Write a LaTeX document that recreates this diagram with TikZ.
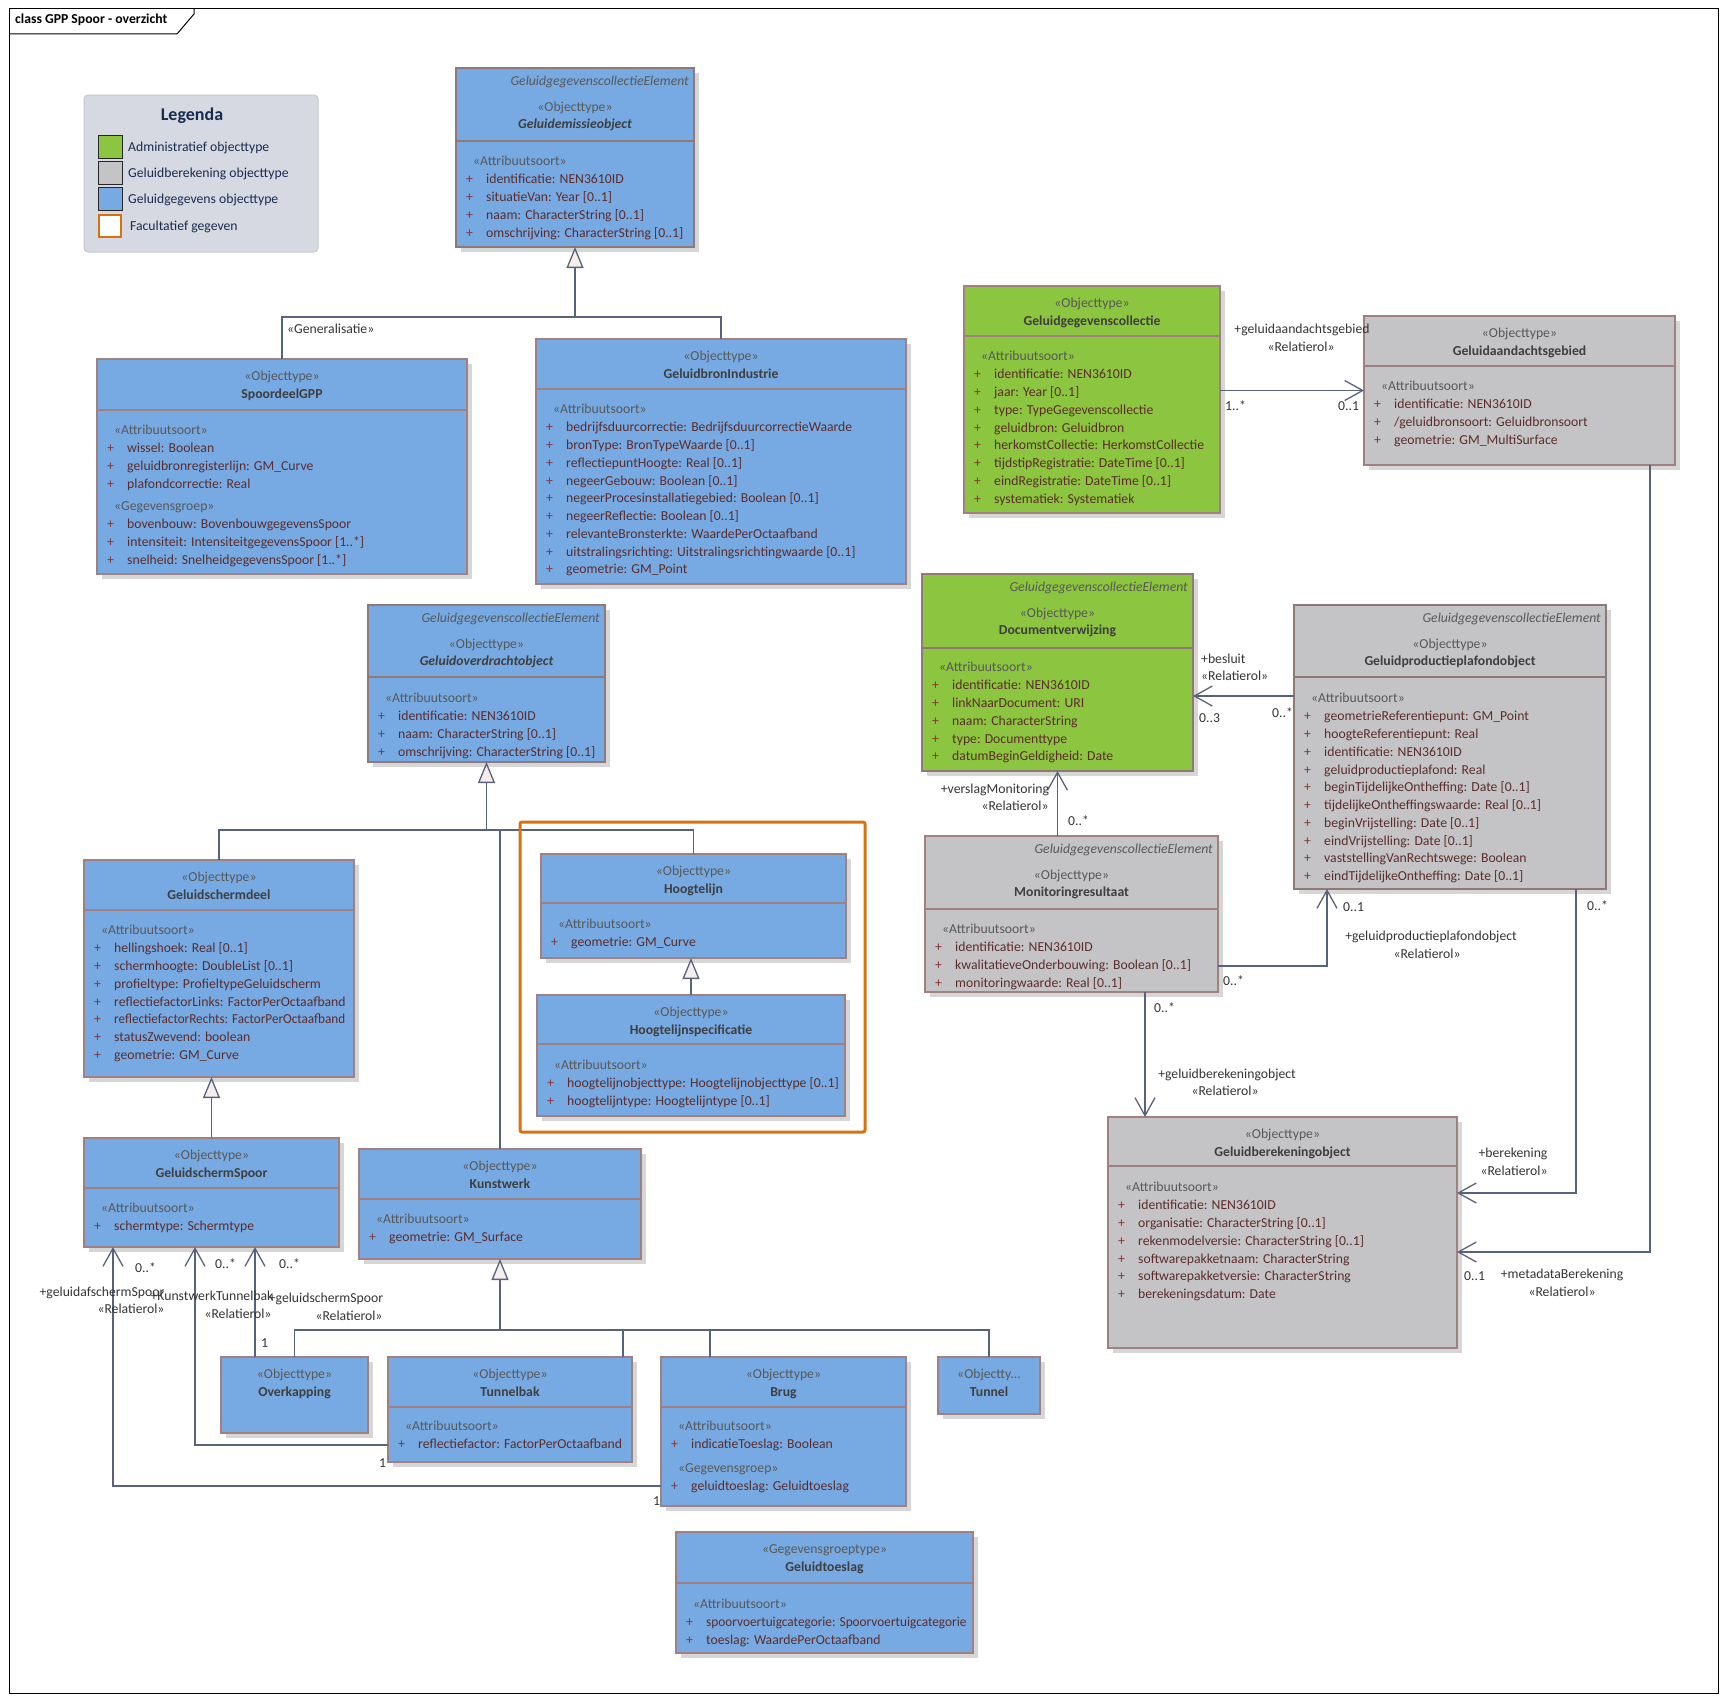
\documentclass[tikz,border=0pt]{standalone}
\usepackage{fontspec}
\setmainfont{Carlito}
\usetikzlibrary{arrows.meta}

\definecolor{blueF}{RGB}{119,170,226}
\definecolor{greenF}{RGB}{140,197,63}
\definecolor{greyF}{RGB}{196,196,198}
\definecolor{edgeC}{RGB}{160,128,128}
\definecolor{heavyC}{RGB}{142,120,120}
\definecolor{shadowC}{RGB}{214,214,214}
\definecolor{wireC}{RGB}{88,98,124}
\definecolor{attrC}{RGB}{92,44,44}
\definecolor{plusC}{RGB}{140,48,48}
\definecolor{stereoC}{RGB}{88,88,88}
\definecolor{nameC}{RGB}{62,62,62}
\definecolor{labelC}{RGB}{52,52,52}
\definecolor{optC}{RGB}{216,114,12}
\definecolor{legendF}{RGB}{214,217,225}
\definecolor{legendD}{RGB}{196,199,207}
\definecolor{legendT}{RGB}{24,44,80}
\definecolor{triF}{RGB}{246,238,234}

\newcommand\umlfont{\fontsize{13.7}{16}\selectfont}

\tikzset{% styles for the classes and the connectors
   box/.style={draw=edgeC, line width=1.2pt, inner sep=0pt, outer sep=0pt},
   bluebox/.style={box, fill=blueF},
   greenbox/.style={box, fill=greenF},
   greybox/.style={box, fill=greyF},
   heavy/.style={draw=heavyC, line width=2.6pt},
   stereo/.style={text=stereoC, font=\umlfont, inner sep=0pt, anchor=base},
   cname/.style={text=nameC, font=\umlfont\bfseries, inner sep=0pt, anchor=base},
   aname/.style={cname, font=\umlfont\bfseries\itshape},
   tagline/.style={text=stereoC, font=\umlfont\itshape, inner sep=0pt, anchor=base east},
   attr/.style={text=attrC, font=\umlfont, inner sep=0pt, anchor=base west},
   plus/.style={attr, text=plusC},
   lbl/.style={text=labelC, font=\umlfont, inner sep=0pt, anchor=base},
   lblw/.style={lbl, anchor=base west},
   wire/.style={draw=wireC, line width=1.3pt},
   gen/.style={wire, -{Triangle[length=21pt,width=17pt,fill=triF]}},
   assoc/.style={wire, -{Straight Barb[length=18pt,width=20pt]}}
}

% a class: shadow, frame and the line under its header
\newcommand\classbox[7]{%
  \fill[shadowC] ({#3+5},{#4+5}) rectangle ({#5+5},{#6+5});
  \node[#2, minimum width=#5-#3, minimum height=#6-#4] (#1) at ({(#3+#5)/2},{(#4+#6)/2}) {};
  \draw[#2] ([yshift=-#7pt]#1.north west) -- ([yshift=-#7pt]#1.north east);
}
% header of a plain class, and of a GeluidgegevenscollectieElement
\newcommand\classhead[4]{%
  \node[stereo] (#1-st) at ([yshift=-21pt]#1.north) {«#2»};
  \node[#4] (#1-nm) at ([yshift=-39pt]#1.north) {#3};
}
\newcommand\elemhead[4]{%
  \node[tagline] (#1-tag) at ([xshift=-5pt,yshift=-17pt]#1.north east) {GeluidgegevenscollectieElement};
  \node[stereo] (#1-st) at ([yshift=-43pt]#1.north) {«#2»};
  \node[#4] (#1-nm) at ([yshift=-60.5pt]#1.north) {#3};
}
% a compartment: stereotype and the attribute lines below it
\newcommand\classattr[4]{%
  \node[stereo, anchor=base west] (#1-s#2) at ([xshift=17pt,yshift={-(#2+1.5)}]#1.north west) {«#3»};
  \foreach \entry [count=\k] in {#4} {
     \node[plus] (#1-p#2-\k) at ([xshift=10pt,yshift={-(#2+2+17.75*\k)}]#1.north west) {+};
     \node[attr] (#1-a#2-\k) at ([xshift=30pt,yshift={-(#2+2+17.75*\k)}]#1.north west) {\entry};
  }
}

\begin{document}
\begin{tikzpicture}[x=1pt, y=-1pt]
\useasboundingbox (0,0) rectangle (1727,1702);
% frame with its name tab
\draw[line width=1pt] (9,9) rectangle (1718,1693);
\draw[line width=1pt] (9,34) -- (177,34) -- (194,14) -- (194,9);
\node[anchor=base west, inner sep=0pt, font=\umlfont\bfseries] (frame) at (15,24) {class GPP Spoor - overzicht};

% legend
\draw[legendD, fill=legendF, line width=1pt, rounded corners=4pt] (84,95) rectangle (318,252);
\node[font=\fontsize{18}{20}\selectfont\bfseries, text=legendT, anchor=base, inner sep=0pt] (legenda) at (192,121) {Legenda};
\foreach \c/\y/\t [count=\k] in {greenF/135/Administratief objecttype, greyF/161/Geluidberekening objecttype, blueF/187/Geluidgegevens objecttype} {
   \draw[black!85, fill=\c, line width=1pt] (98,\y) rectangle (122,{\y+23});
   \node[anchor=base west, inner sep=0pt, font=\umlfont, text=legendT] (leg\k) at (128,{\y+16}) {\t};
}
\draw[optC, fill=white, line width=2.4pt] (99,215) rectangle (121,237);
\node[anchor=base west, inner sep=0pt, font=\umlfont, text=legendT] (leg4) at (130,230) {Facultatief gegeven};

% classes
\classbox{emis}{bluebox,heavy}{456}{68}{694}{247}{73}
\elemhead{emis}{Objecttype}{Geluidemissieobject}{aname}
\classattr{emis}{96}{Attribuutsoort}{identificatie: NEN3610ID, situatieVan: Year [0..1], naam: CharacterString [0..1], omschrijving: CharacterString [0..1]}

\classbox{spoor}{bluebox}{97}{359}{467}{574}{51}
\classhead{spoor}{Objecttype}{SpoordeelGPP}{cname}
\classattr{spoor}{74}{Attribuutsoort}{wissel: Boolean, geluidbronregisterlijn: GM\_Curve, plafondcorrectie: Real}
\classattr{spoor}{150}{Gegevensgroep}{bovenbouw: BovenbouwgegevensSpoor, intensiteit: IntensiteitgegevensSpoor [1..*], snelheid: SnelheidgegevensSpoor [1..*]}

\classbox{gbi}{bluebox}{536}{339}{906}{584}{50}
\classhead{gbi}{Objecttype}{GeluidbronIndustrie}{cname}
\classattr{gbi}{73}{Attribuutsoort}{bedrijfsduurcorrectie: BedrijfsduurcorrectieWaarde, bronType: BronTypeWaarde [0..1], reflectiepuntHoogte: Real [0..1], negeerGebouw: Boolean [0..1], negeerProcesinstallatiegebied: Boolean [0..1], negeerReflectie: Boolean [0..1], relevanteBronsterkte: WaardePerOctaafband, uitstralingsrichting: Uitstralingsrichtingwaarde [0..1], geometrie: GM\_Point}

\classbox{ggc}{greenbox}{964}{286}{1220}{513}{50}
\classhead{ggc}{Objecttype}{Geluidgegevenscollectie}{cname}
\classattr{ggc}{73}{Attribuutsoort}{identificatie: NEN3610ID, jaar: Year [0..1], type: TypeGegevenscollectie, geluidbron: Geluidbron, herkomstCollectie: HerkomstCollectie, tijdstipRegistratie: DateTime [0..1], eindRegistratie: DateTime [0..1], systematiek: Systematiek}

\classbox{gag}{greybox}{1364}{316}{1675}{465}{50}
\classhead{gag}{Objecttype}{Geluidaandachtsgebied}{cname}
\classattr{gag}{73}{Attribuutsoort}{identificatie: NEN3610ID, /geluidbronsoort: Geluidbronsoort, geometrie: GM\_MultiSurface}

\classbox{gov}{bluebox,heavy}{368}{605}{605}{762}{72}
\elemhead{gov}{Objecttype}{Geluidoverdrachtobject}{aname}
\classattr{gov}{96}{Attribuutsoort}{identificatie: NEN3610ID, naam: CharacterString [0..1], omschrijving: CharacterString [0..1]}

\classbox{doc}{greenbox,heavy}{922}{574}{1193}{771}{74}
\elemhead{doc}{Objecttype}{Documentverwijzing}{cname}
\classattr{doc}{96}{Attribuutsoort}{identificatie: NEN3610ID, linkNaarDocument: URI, naam: CharacterString, type: Documenttype, datumBeginGeldigheid: Date}

\classbox{gpp}{greybox,heavy}{1294}{605}{1606}{889}{72}
\elemhead{gpp}{Objecttype}{Geluidproductieplafondobject}{cname}
\classattr{gpp}{96}{Attribuutsoort}{geometrieReferentiepunt: GM\_Point, hoogteReferentiepunt: Real, identificatie: NEN3610ID, geluidproductieplafond: Real, beginTijdelijkeOntheffing: Date [0..1], tijdelijkeOntheffingswaarde: Real [0..1], beginVrijstelling: Date [0..1], eindVrijstelling: Date [0..1], vaststellingVanRechtswege: Boolean, eindTijdelijkeOntheffing: Date [0..1]}

\classbox{mon}{greybox}{925}{836}{1218}{992}{73}
\elemhead{mon}{Objecttype}{Monitoringresultaat}{cname}
\classattr{mon}{96}{Attribuutsoort}{identificatie: NEN3610ID, kwalitatieveOnderbouwing: Boolean [0..1], monitoringwaarde: Real [0..1]}

\classbox{gsd}{bluebox}{84}{860}{354}{1077}{50}
\classhead{gsd}{Objecttype}{Geluidschermdeel}{cname}
\classattr{gsd}{73}{Attribuutsoort}{hellingshoek: Real [0..1], schermhoogte: DoubleList [0..1], profieltype: ProfieltypeGeluidscherm, reflectiefactorLinks: FactorPerOctaafband, \scalebox{0.96}[1]{reflectiefactorRechts: FactorPerOctaafband}, statusZwevend: boolean, geometrie: GM\_Curve}

\classbox{hl}{bluebox}{541}{854}{846}{958}{49}
\classhead{hl}{Objecttype}{Hoogtelijn}{cname}
\classattr{hl}{73}{Attribuutsoort}{geometrie: GM\_Curve}

\classbox{hls}{bluebox}{537}{995}{845}{1116}{49}
\classhead{hls}{Objecttype}{Hoogtelijnspecificatie}{cname}
\classattr{hls}{73}{Attribuutsoort}{hoogtelijnobjecttype: Hoogtelijnobjecttype [0..1], hoogtelijntype: Hoogtelijntype [0..1]}

\classbox{gss}{bluebox}{84}{1138}{339}{1247}{50}
\classhead{gss}{Objecttype}{GeluidschermSpoor}{cname}
\classattr{gss}{73}{Attribuutsoort}{schermtype: Schermtype}

\classbox{kw}{bluebox}{359}{1149}{641}{1259}{50}
\classhead{kw}{Objecttype}{Kunstwerk}{cname}
\classattr{kw}{73}{Attribuutsoort}{geometrie: GM\_Surface}

\classbox{ovk}{bluebox}{221}{1357}{368}{1433}{0}
\classhead{ovk}{Objecttype}{Overkapping}{cname}

\classbox{tb}{bluebox}{388}{1357}{632}{1462}{50}
\classhead{tb}{Objecttype}{Tunnelbak}{cname}
\classattr{tb}{72}{Attribuutsoort}{reflectiefactor: FactorPerOctaafband}

\classbox{brug}{bluebox}{661}{1357}{906}{1506}{50}
\classhead{brug}{Objecttype}{Brug}{cname}
\classattr{brug}{72}{Attribuutsoort}{indicatieToeslag: Boolean}
\classattr{brug}{114}{Gegevensgroep}{geluidtoeslag: Geluidtoeslag}

\classbox{tun}{bluebox}{938}{1357}{1040}{1414}{0}
\node[stereo] (tun-st) at ([yshift=-21pt]tun.north) {«Objectty...};
\node[cname] (tun-nm) at ([yshift=-39pt]tun.north) {Tunnel};

\classbox{gts}{bluebox}{676}{1532}{973}{1653}{51}
\classhead{gts}{Gegevensgroeptype}{Geluidtoeslag}{cname}
\classattr{gts}{75}{Attribuutsoort}{\scalebox{0.97}[1]{spoorvoertuigcategorie: Spoorvoertuigcategorie}, toeslag: WaardePerOctaafband}

\classbox{gbo}{greybox}{1108}{1117}{1457}{1348}{49}
\classhead{gbo}{Objecttype}{Geluidberekeningobject}{cname}
\classattr{gbo}{73}{Attribuutsoort}{identificatie: NEN3610ID, organisatie: CharacterString [0..1], rekenmodelversie: CharacterString [0..1], softwarepakketnaam: CharacterString, softwarepakketversie: CharacterString, berekeningsdatum: Date}

% generalisations
\coordinate (g1) at ([yshift=-70pt]emis.south);
\draw[wire] (spoor.north) |- (g1) -| (gbi.north);
\draw[gen] (g1) -- (emis.south);
\coordinate (g2) at ([yshift=-68pt]gov.south);
\draw[wire] (gsd.north) |- (g2) -| (hl.north);
\draw[gen] (g2) -- (gov.south);
\draw[wire] (kw.north) -- (kw.north |- g2);
\draw[gen] (hls.north) -- (hls.north |- hl.south);
\draw[gen] (gss.north) -- (gss.north |- gsd.south);
\coordinate (g3) at ([yshift=-71pt]kw.south);
\draw[gen] (g3) -- (kw.south);
\draw[wire] (ovk.north) |- (g3) -| (tun.north);
\draw[wire] ([xshift=-9pt]tb.north east) |- (g3);
\draw[wire] ([xshift=49pt]brug.north west) |- (g3);

% associations
\draw[assoc] (ggc.east |- gag.west) -- (gag.west);
\draw[assoc] ([yshift=51pt]gpp.west) -- ([yshift=-23.5pt]doc.east);
\draw[assoc] (mon.north -| doc.south) -- (doc.south);
\draw[assoc] ([yshift=-52pt]mon.east) -| ([xshift=33pt]gpp.south west);
\coordinate (gbo-in) at ([xshift=37pt]gbo.north west);
\draw[assoc] (mon.south -| gbo-in) -- (gbo-in);
\draw[assoc] ([xshift=-30pt]gpp.south east) |- ([yshift=39.5pt]gbo.east);
\draw[assoc] ([xshift=-25pt]gag.south east) |- ([yshift=-19.5pt]gbo.east);
\draw[assoc] ([yshift=-54.5pt]brug.west) -| ([xshift=29pt]gss.south west);
\draw[assoc] ([yshift=-35.5pt]tb.west) -| ([xshift=111pt]gss.south west);
\draw[assoc] ([xshift=34pt]ovk.north west) -- ([xshift=171pt]gss.south west);

% role names and multiplicities
\foreach \p/\t [count=\k] in {{(1302,333)}/+geluidaandachtsgebied, {(1301,351)}/«Relatierol»,
   {(995,793)}/+verslagMonitoring, {(1015,810)}/«Relatierol»,
   {(1431,940)}/+geluidproductieplafondobject, {(1427,958)}/«Relatierol»,
   {(1227,1078)}/+geluidberekeningobject, {(1225,1095)}/«Relatierol»,
   {(1513,1157)}/+berekening, {(1514,1175)}/«Relatierol»,
   {(1562,1278)}/+metadataBerekening, {(1562,1296)}/«Relatierol»,
   {(102,1296)}/+geluidafschermSpoor, {(131,1313)}/«Relatierol»,
   {(212,1300)}/+KunstwerkTunnelbak, {(238,1318)}/«Relatierol»,
   {(326,1302)}/+geluidschermSpoor, {(349,1320)}/«Relatierol»}
   \node[lbl] (role\k) at \p {\t};
\foreach \p/\t [count=\k] in {{(287,333)}/«Generalisatie», {(1225,410)}/1..*, {(1338,410)}/0..1,
   {(1201,663)}/+besluit, {(1201,680)}/«Relatierol», {(1199,722)}/0..3, {(1272,717)}/0..*,
   {(1068,825)}/0..*, {(1343,911)}/0..1, {(1223,985)}/0..*, {(1587,910)}/0..*,
   {(1154,1012)}/0..*, {(1464,1280)}/0..1, {(135,1272)}/0..*, {(215,1268)}/0..*,
   {(279,1268)}/0..*, {(261,1347)}/1, {(379,1467)}/1, {(653,1505)}/1}
   \node[lblw] (mult\k) at \p {\t};

% optional data
\draw[optC, line width=3pt, rounded corners=2pt] (520,822) rectangle (865,1132);
\end{tikzpicture}
\end{document}
